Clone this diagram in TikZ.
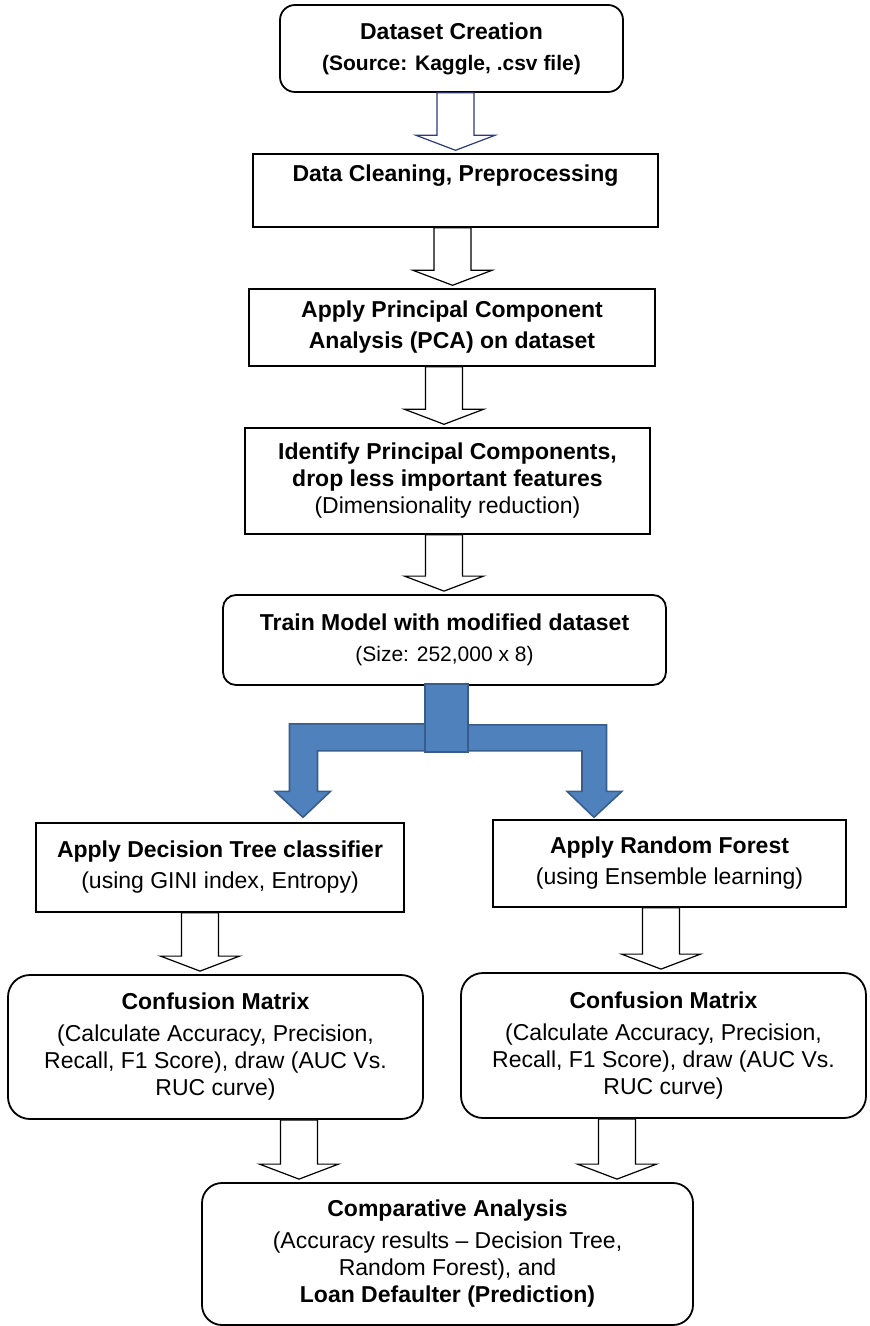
\documentclass[tikz,border=0pt]{standalone}
\usepackage{fontspec}
\setmainfont{Liberation Sans}
\usetikzlibrary{calc}

\definecolor{forkfill}{RGB}{79,129,189}
\definecolor{forkline}{RGB}{56,93,138}
\definecolor{navyline}{RGB}{44,58,128}

\tikzset{
  box/.style={draw, line width=0.7pt, inner sep=0pt, align=center,
    font=\fontsize{11.5}{13.5}\selectfont},
  roundbox/.style={box, line width=0.9pt, rounded corners=#1},
  hollow/.style={draw=black, fill=white, line width=0.6pt, line join=miter},
  fork/.style={draw=forkline, fill=forkfill, line width=0.8pt, line join=miter},
}

\newcommand{\smalltext}{\fontsize{10.5}{12}\selectfont}

% outlined block arrow from the foot of one box to the head of the next
\newcommand{\hollowarrow}[4][hollow]{%
  \coordinate (ha) at ($(#3.south)+(#2,0)$);
  \coordinate (hb) at (#4.north -| ha);
  \draw[#1] ($(ha)+(-18.5,0)$) -- ($(hb)+(-18.5,-18)$) -- ($(hb)+(-39.5,-18)$)
    -- ($(hb)+(0,-3)$) -- ($(hb)+(39.5,-18)$) -- ($(hb)+(18.5,-18)$)
    -- ($(ha)+(18.5,0)$) -- cycle;
}

\begin{document}
\begin{tikzpicture}[x=0.5pt, y=-0.5pt]
  \useasboundingbox (0,0) rectangle (870,1326);

  \node[roundbox=7.5pt, minimum width=171.5pt, minimum height=43.5pt] (create) at (451.5,48.5)
    {\textbf{Dataset Creation}\\[2pt] \textbf{\smalltext (Source: Kaggle, .csv file)}};
  \node[box, minimum width=202.5pt, minimum height=36.5pt] (clean) at (455.5,190.5)
    {\textbf{Data Cleaning, Preprocessing}\\ \strut};
  \node[box, minimum width=203pt, minimum height=38.5pt] (pca) at (452,327.5)
    {\textbf{Apply Principal Component}\\[2pt] \textbf{Analysis (PCA) on dataset}};
  \node[box, minimum width=202.5pt, minimum height=53pt] (reduce) at (447.5,481)
    {\textbf{Identify Principal Components,}\\ \textbf{drop less important features}\\
     (Dimensionality reduction)};
  \node[roundbox=6.5pt, minimum width=221.5pt, minimum height=45pt] (train) at (444.5,640)
    {\textbf{Train Model with modified dataset}\\[2pt] {\smalltext (Size: 252,000 x 8)}};

  \node[box, minimum width=184pt, minimum height=44.5pt] (dtree) at (220,867.5)
    {\textbf{Apply Decision Tree classifier}\\[2pt] (using GINI index, Entropy)};
  \node[box, minimum width=176.5pt, minimum height=43.5pt] (rforest) at (669.5,863.5)
    {\textbf{Apply Random Forest}\\[2pt] (using Ensemble learning)};

  \node[roundbox=11pt, minimum width=207.5pt, minimum height=72pt] (cmleft) at (215.5,1047)
    {\textbf{Confusion Matrix}\\[2.5pt] (Calculate Accuracy, Precision,\\
     Recall, F1 Score), draw (AUC Vs.\\ RUC curve)};
  \node[roundbox=11pt, minimum width=202.5pt, minimum height=72.5pt] (cmright) at (663.5,1045.5)
    {\textbf{Confusion Matrix}\\[2.5pt] (Calculate Accuracy, Precision,\\
     Recall, F1 Score), draw (AUC Vs.\\ RUC curve)};

  \node[roundbox=10pt, minimum width=245.5pt, minimum height=71pt] (compare) at (447.5,1254)
    {\textbf{Comparative Analysis}\\[2.5pt] (Accuracy results – Decision Tree,\\
     Random Forest), and\\ \textbf{Loan Defaulter (Prediction)}};

  \hollowarrow[hollow, draw=navyline]{4}{create}{clean}
  \hollowarrow{-3}{clean}{pca}
  \hollowarrow{-8}{pca}{reduce}
  \hollowarrow{-3.5}{reduce}{train}

  % split into the two classifiers
  \coordinate (fk) at ($(train.south)+(2,-2)$);
  \coordinate (lt) at ($(dtree.north)+(83,-5)$);
  \coordinate (rt) at ($(rforest.north)+(-75.5,-2)$);
  \draw[fork] ($(fk)+(-21,40)$) -| ($(lt)+(-13.5,-26)$) -- ++(-14.5,0) -- (lt)
    -- ++(27.5,-26) -- ++(-13,0) |- ($(fk)+(-21,67)$) -- cycle;
  \draw[fork] ($(fk)+(21,41)$) -| ($(rt)+(12.5,-26)$) -- ++(15.5,0) -- (rt)
    -- ++(-27,-26) -- ++(15,0) |- ($(fk)+(21,67)$) -- cycle;
  \draw[fork] ($(fk)+(-21.5,0)$) rectangle ($(fk)+(21.5,68)$);

  \hollowarrow{-20}{dtree}{cmleft}
  \hollowarrow{-8.5}{rforest}{cmright}
  \hollowarrow{83.5}{cmleft}{compare}
  \hollowarrow{-46.5}{cmright}{compare}
\end{tikzpicture}
\end{document}
